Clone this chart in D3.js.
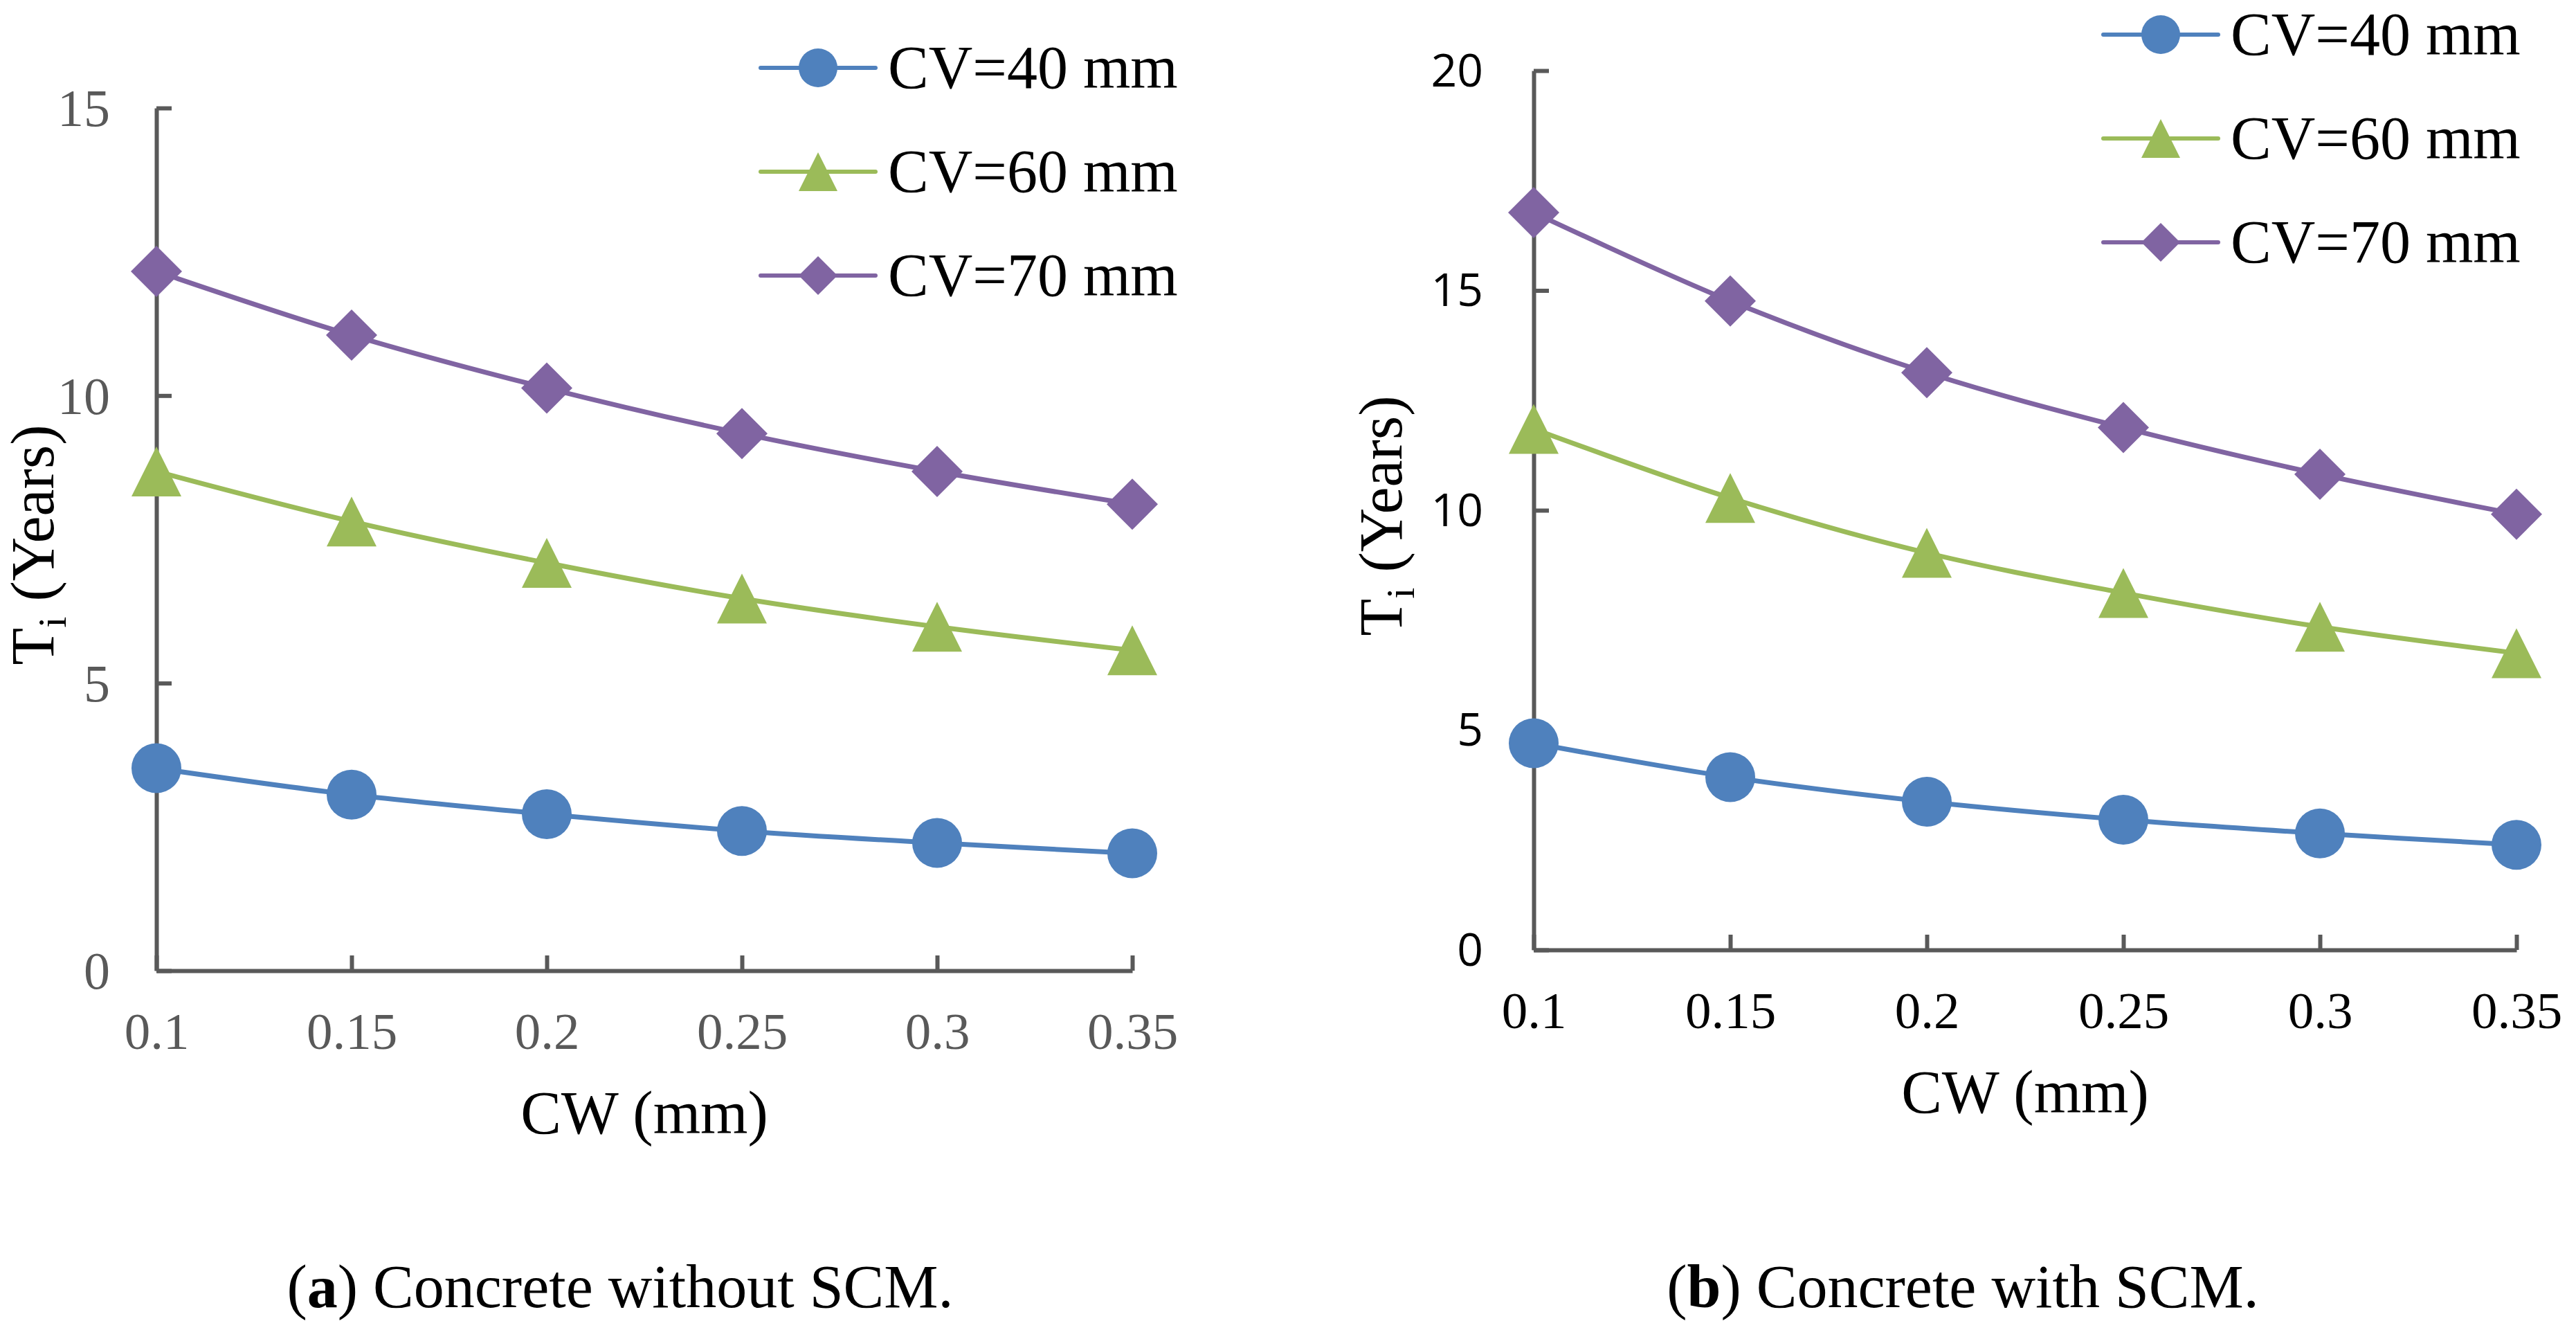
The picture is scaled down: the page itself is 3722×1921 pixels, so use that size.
<!DOCTYPE html>
<html>
<head>
<meta charset="utf-8">
<script src="https://cdn.jsdelivr.net/npm/d3@7"></script>
<style>
  body { margin: 0; background: #fff; }
  svg { display: block; }
</style>
</head>
<body>
<svg id="chart" width="3722" height="1921"></svg>
<script>
// categories and values
var cwLabels = ["0.1", "0.15", "0.2", "0.25", "0.3", "0.35"]
var seriesNames = ["CV=40 mm", "CV=60 mm", "CV=70 mm"]

var cv40NoScm = [3.52, 3.06, 2.72, 2.43, 2.22, 2.04]
var cv60NoScm = [8.68, 7.81, 7.09, 6.47, 5.98, 5.57]
var cv70NoScm = [12.16, 11.05, 10.13, 9.34, 8.68, 8.11]

var cv40Scm = [4.70, 3.93, 3.37, 2.96, 2.65, 2.39]
var cv60Scm = [11.85, 10.28, 9.03, 8.12, 7.35, 6.75]
var cv70Scm = [16.77, 14.76, 13.13, 11.88, 10.82, 9.91]

var yTicksA = [0, 5, 10, 15]
var yTicksB = [0, 5, 10, 15, 20]

var colors = ["#4F81BD", "#9BBB59", "#8064A2"]
var shapes = ["circle", "triangle", "diamond"]
var axisGrey = "#595959"
var serif = "'Liberation Serif', 'Times New Roman', serif"

var svg = d3.select("#chart")

function marker (g, shape, color, size) {
  // size = half width of marker
  if (shape == "circle") {
    g.append("circle").attr("r", size).attr("fill", color)
  } else if (shape == "diamond") {
    g.append("path")
      .attr("d", `M0,${-size}L${size},0L0,${size}L${-size},0Z`)
      .attr("fill", color)
  } else {
    g.append("path")
      .attr("d", `M0,${-size}L${size},${size}L${-size},${size}Z`)
      .attr("fill", color)
  }
}

function drawPanel (opt) {
  var x = d3.scalePoint().domain(cwLabels).range([opt.left, opt.right]).padding(0)
  var y = d3.scaleLinear().domain([0, opt.yMax]).range([opt.bottom, opt.top])

  var yAxis = svg.append("g")
    .attr("transform", `translate(${opt.left},0)`)
    .call(d3.axisLeft(y).tickValues(opt.yTicks).tickSizeInner(-22).tickSizeOuter(0).tickPadding(opt.yPad))
  var xAxis = svg.append("g")
    .attr("transform", `translate(0,${opt.bottom})`)
    .call(d3.axisBottom(x).tickSizeInner(-22).tickSizeOuter(0).tickPadding(60))

  svg.selectAll(".domain, .tick line")
    .attr("stroke", axisGrey)
    .attr("stroke-width", 6)

  yAxis.selectAll("text")
    .attr("font-family", opt.yFont)
    .attr("font-size", opt.yFontSize)
    .attr("fill", opt.labelColor)
    .attr("dy", "0.34em")
  xAxis.selectAll("text")
    .attr("font-family", serif)
    .attr("font-size", 75)
    .attr("fill", opt.labelColor)

  var line = d3.line()
    .x(function(d, i) { return x(cwLabels[i]) })
    .y(function(d) { return y(d) })
    .curve(d3.curveCatmullRom.alpha(0.5))

  opt.series.forEach(function(vals, s) {
    svg.append("path")
      .attr("d", line(vals))
      .attr("fill", "none")
      .attr("stroke", colors[s])
      .attr("stroke-width", 7)

    vals.forEach(function(v, i) {
      var g = svg.append("g").attr("transform", `translate(${x(cwLabels[i])},${y(v)})`)
      marker(g, shapes[s], colors[s], shapes[s] == "diamond" ? 37 : 36)
    })
  })

  // legend
  seriesNames.forEach(function(name, s) {
    var ly = opt.legendY + s * 150
    svg.append("line")
      .attr("x1", opt.legendX).attr("x2", opt.legendX + 166)
      .attr("y1", ly).attr("y2", ly)
      .attr("stroke", colors[s])
      .attr("stroke-width", 6)
      .attr("stroke-linecap", "round")
    var g = svg.append("g").attr("transform", `translate(${opt.legendX + 83},${ly})`)
    marker(g, shapes[s], colors[s], 28)
    svg.append("text")
      .attr("x", opt.legendX + 184)
      .attr("y", ly + 29)
      .attr("font-family", serif)
      .attr("font-size", 88)
      .attr("fill", "#000")
      .text(name)
  })

  // axis titles
  svg.append("text")
    .attr("x", (opt.left + opt.right) / 2)
    .attr("y", opt.bottom + 235)
    .attr("text-anchor", "middle")
    .attr("font-family", serif)
    .attr("font-size", 88)
    .text("CW (mm)")

  var yt = svg.append("text")
    .attr("transform", `translate(${opt.yTitleX},${(opt.top + opt.bottom) / 2 + 8}) rotate(-90)`)
    .attr("text-anchor", "middle")
    .attr("font-family", serif)
    .attr("font-size", 88)
  yt.append("tspan").text("T")
  yt.append("tspan").attr("font-size", 58).attr("dy", 18).text("i")
  yt.append("tspan").attr("dy", -18).text(" (Years)")

  // caption
  var cap = svg.append("text")
    .attr("x", opt.captionX)
    .attr("y", 1888)
    .attr("text-anchor", "middle")
    .attr("font-family", serif)
    .attr("font-size", 88)
  cap.append("tspan").text("(")
  cap.append("tspan").attr("font-weight", "bold").text(opt.letter)
  cap.append("tspan").text(") " + opt.caption)
}

drawPanel({
  left: 226, right: 1636, top: 156, bottom: 1402, yMax: 15, yTicks: yTicksA,
  yPad: 67, yFont: serif, yFontSize: 76, labelColor: axisGrey,
  series: [cv40NoScm, cv60NoScm, cv70NoScm],
  legendX: 1099, legendY: 98, yTitleX: 77,
  captionX: 896, letter: "a", caption: "Concrete without SCM."
})

drawPanel({
  left: 2216, right: 3636, top: 102, bottom: 1372, yMax: 20, yTicks: yTicksB,
  yPad: 73, yFont: "'Open Sans', sans-serif", yFontSize: 66, labelColor: "#000",
  series: [cv40Scm, cv60Scm, cv70Scm],
  legendX: 3039, legendY: 50, yTitleX: 2025,
  captionX: 2836, letter: "b", caption: "Concrete with SCM."
})
</script>
</body>
</html>
